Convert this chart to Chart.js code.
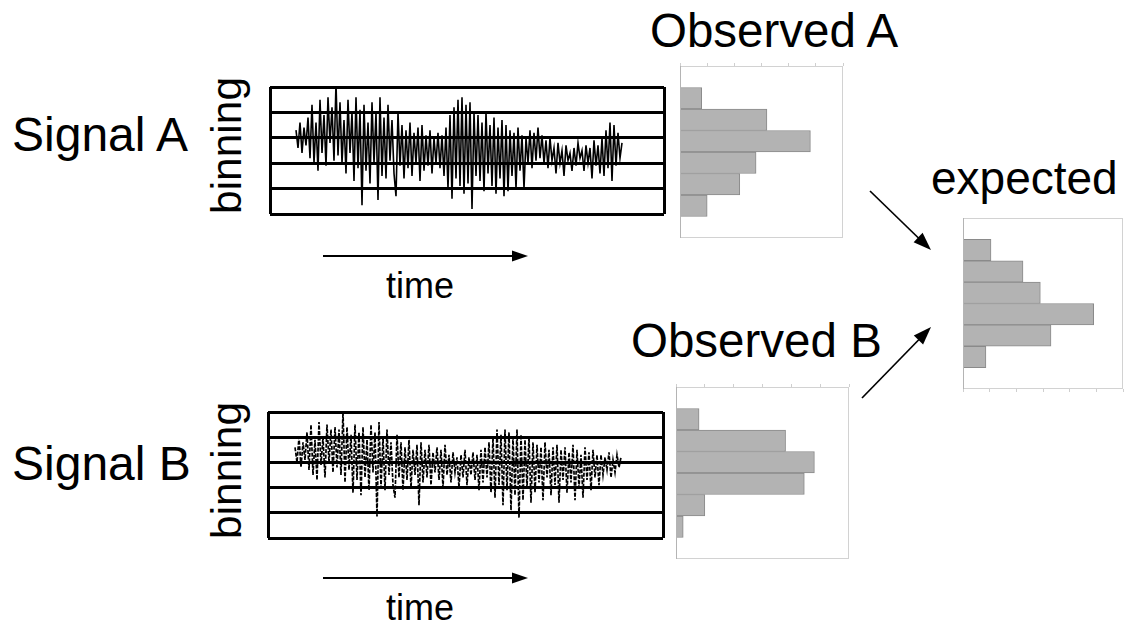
<!DOCTYPE html>
<html>
<head>
<meta charset="utf-8">
<script src="https://cdn.jsdelivr.net/npm/chart.js@4/dist/chart.umd.min.js"></script>
<style>
  html, body { margin: 0; padding: 0; background: #fff; }
  #stage { position: relative; width: 1135px; height: 625px; overflow: hidden;
           font-family: "Liberation Sans", Arial, sans-serif; color: #000; }
  .lbl { position: absolute; white-space: nowrap; line-height: 1; }
  .rot { transform-origin: 0 0; transform: rotate(-90deg); }
  canvas { position: absolute; }
  svg { position: absolute; left: 0; top: 0; }
</style>
</head>
<body>
<div id="stage">
  <div class="lbl" style="left:12px; top:111px; font-size:48px;">Signal A</div>
  <div class="lbl" style="left:12px; top:440px; font-size:48px;">Signal B</div>
  <div class="lbl rot" style="left:206px; top:214px; font-size:42.5px;">binning</div>
  <div class="lbl rot" style="left:206px; top:539px; font-size:42.5px;">binning</div>
  <div class="lbl" style="left:386px; top:268px; font-size:36px;">time</div>
  <div class="lbl" style="left:386px; top:590px; font-size:36px;">time</div>
  <div class="lbl" style="left:650px; top:7px; font-size:47.5px;">Observed A</div>
  <div class="lbl" style="left:631px; top:317px; font-size:47.5px;">Observed B</div>
  <div class="lbl" style="left:931px; top:155px; font-size:46px;">expected</div>

  <canvas id="sigA" width="400" height="133" style="left:267px; top:84px;"></canvas>
  <canvas id="sigB" width="401" height="132" style="left:265px; top:409px;"></canvas>
  <canvas id="histA" width="167" height="179" style="left:678px; top:61px;"></canvas>
  <canvas id="histB" width="177" height="179" style="left:674px; top:382px;"></canvas>
  <canvas id="histE" width="164" height="178" style="left:961px; top:216px;"></canvas>

  <svg width="1135" height="625">
    <g stroke="#000" stroke-width="2" fill="#000">
      <line x1="323" y1="256" x2="514" y2="256"/>
      <polygon points="528,256 512,250.5 512,261.5" stroke="none"/>
      <line x1="323" y1="578" x2="514" y2="578"/>
      <polygon points="528,578 512,572.5 512,583.5" stroke="none"/>
      <line x1="870" y1="191" x2="919" y2="238.5" stroke-width="1.7"/>
      <polygon points="931,250 913.6,242.2 922.6,232.8" stroke="none"/>
      <line x1="862" y1="398" x2="919" y2="339.5" stroke-width="1.7"/>
      <polygon points="931,327 923.1,344.4 913.8,335.4" stroke="none"/>
    </g>
  </svg>
</div>

<script>
// bin edges of the signal boxes (5 bands)
const signalBins = [0, 1, 2, 3, 4, 5];

// signal A, one sample every 2px
const signalA = [
  3.3, 2.6, 3.6, 2.4, 3.4, 2.7, 3.8, 2.2,
  4.3, 2.0, 3.6, 1.7, 4.5, 2.4, 3.9, 1.9, 4.6, 2.8, 4.2, 2.1,
  5.15, 2.3,
  4.4, 2.0, 3.7, 1.6, 4.5, 2.4, 4.0, 1.3, 4.6, 1.8, 4.1, 0.35, 4.3, 1.7,
  3.6, 1.2, 4.4, 2.0, 4.0, 0.55, 4.6, 1.5, 3.8, 1.4, 4.3, 2.1, 3.7, 1.6,
  0.7, 4.0, 1.9, 3.5, 1.4, 3.3, 1.8, 3.6, 1.5, 3.2, 2.0, 3.4, 1.3, 3.5,
  1.7, 3.1, 1.9, 3.3, 1.6, 3.0, 2.0, 3.2, 1.8, 3.1, 1.5, 3.4,
  1.0, 3.9, 0.6, 4.2, 1.4, 4.5, 1.1, 4.6, 0.8, 4.3, 1.2, 4.4, 0.2, 4.0, 1.5,
  3.9, 1.3, 3.6, 0.9, 4.0, 1.6, 3.5, 1.1, 3.8, 0.8, 3.4, 1.4, 3.7, 0.7,
  3.5, 0.9, 3.3, 1.5, 3.2, 1.0, 3.4, 1.7,
  3.1, 1.0, 3.0, 2.0, 3.3, 1.8, 3.2, 2.1, 3.4, 2.2, 3.1, 2.0, 2.9, 1.8, 3.0, 2.1,
  2.6, 1.6, 2.8, 2.0, 2.5, 1.5, 2.7, 2.1, 2.4, 1.7, 2.6, 1.9, 2.8, 2.2,
  2.5, 1.7, 2.7, 2.0, 2.6, 1.4, 2.9, 1.9, 2.7, 1.6,
  3.0, 1.5, 3.3, 1.8, 3.6, 1.3, 3.5, 1.9, 3.2, 2.2, 2.8
];

// signal B, one sample every 2px
const signalB = [
  3.6, 3.0, 4.0, 2.8, 3.8, 3.1, 4.2, 2.7,
  4.5, 2.5, 3.9, 2.3, 4.6, 2.9, 4.0, 2.4, 4.5, 3.0, 4.3, 2.6,
  4.4, 2.8,
  4.3, 2.5, 5.0, 2.2, 4.4, 2.7, 4.1, 1.8, 4.5, 2.3, 4.2, 1.7, 4.4, 2.4,
  3.9, 1.9, 4.5, 2.6, 4.2, 0.85, 4.6, 2.0, 4.0, 1.9, 4.3, 2.5, 3.8, 2.1,
  1.6, 4.1, 2.4, 3.8, 1.9, 3.6, 2.3, 3.9, 2.0, 3.5, 2.5, 3.7, 1.3, 3.8,
  2.2, 3.5, 2.4, 3.7, 2.1, 3.4, 2.6, 3.6, 2.3, 3.5, 2.0, 3.7,
  2.5, 3.3, 2.2, 3.4, 2.6, 3.2, 2.0, 3.3, 2.4, 3.5, 2.1, 3.2, 2.5, 3.4,
  2.3, 3.3, 1.9, 3.5, 2.2, 3.6, 2.4, 3.8,
  1.8, 4.0, 1.6, 4.3, 2.1, 4.1, 1.3, 4.3, 1.9, 4.2, 1.1, 4.0, 1.7, 4.3,
  0.8, 4.1, 1.5, 3.9, 2.0, 4.0, 1.4, 3.8, 1.8,
  3.7, 2.2, 3.6, 1.5, 3.8, 2.4, 3.5, 1.7, 3.6, 2.1, 3.7, 1.4, 3.5, 2.3,
  3.6, 1.8, 3.4, 2.2, 3.7, 1.5, 3.5, 2.0, 3.3, 1.6, 3.6, 2.3, 3.4, 1.9,
  3.5, 2.4, 3.3, 2.1,
  3.3, 2.5, 3.2, 2.7, 3.4, 2.4, 3.1, 2.6, 3.3, 2.8, 3.2
];

// histogram slots (first and last stay empty)
const histSlots = ['', '1', '2', '3', '4', '5', '6', ''];
const histTicks = [0, 1, 2, 3, 4, 5, 6];
const observedA = [null, 0.8, 3.2, 4.8, 2.8, 2.2, 1.0, null];
const observedB = [null, 0.8, 3.8, 4.8, 4.45, 1.0, 0.25, null];
const expected  = [null, 1.05, 2.25, 2.9, 4.9, 3.3, 0.86, null];

// light frame round the histogram plots
const framePlugin = {
  id: 'frame',
  afterDraw(chart) {
    const { ctx, chartArea: a } = chart;
    ctx.save();
    ctx.strokeStyle = '#d2d2d2';
    ctx.lineWidth = 1;
    ctx.strokeRect(a.left + 0.5, a.top + 0.5, a.right - a.left - 1, a.bottom - a.top - 1);
    ctx.strokeStyle = '#b4b4b4';
    ctx.beginPath();
    ctx.moveTo(a.left + 0.5, a.top);
    ctx.lineTo(a.left + 0.5, a.bottom);
    ctx.stroke();
    ctx.restore();
  }
};

function drawSignal(id, values, xMin, xMax, width, dash) {
  const pts = values.map((v, i) => ({ x: i, y: v }));
  return new Chart(document.getElementById(id), {
    type: 'line',
    data: {
      datasets: [{
        data: pts,
        borderColor: '#000',
        borderWidth: width,
        borderDash: dash,
        pointRadius: 0,
        tension: 0
      }]
    },
    options: {
      responsive: false,
      animation: false,
      events: [],
      layout: { padding: 3 },
      plugins: { legend: { display: false }, tooltip: { enabled: false } },
      scales: {
        x: {
          type: 'linear', min: xMin, max: xMax,
          afterBuildTicks: s => { s.ticks = [{ value: xMin }, { value: xMax }]; },
          ticks: { display: false },
          grid: { color: '#000', lineWidth: 3, drawTicks: false },
          border: { display: false }
        },
        y: {
          min: signalBins[0], max: signalBins[signalBins.length - 1],
          afterBuildTicks: s => { s.ticks = signalBins.map(v => ({ value: v })); },
          ticks: { display: false },
          grid: { color: '#000', lineWidth: 3, drawTicks: false },
          border: { display: false }
        }
      }
    }
  });
}

function drawHist(id, values, axisPos) {
  return new Chart(document.getElementById(id), {
    type: 'bar',
    data: {
      labels: histSlots,
      datasets: [{
        data: values,
        backgroundColor: '#b3b3b3',
        borderColor: '#8a8a8a',
        borderWidth: 1,
        categoryPercentage: 1,
        barPercentage: 1
      }]
    },
    options: {
      indexAxis: 'y',
      responsive: false,
      animation: false,
      events: [],
      layout: { padding: 2 },
      plugins: { legend: { display: false }, tooltip: { enabled: false } },
      scales: {
        x: {
          position: axisPos,
          min: histTicks[0], max: histTicks[histTicks.length - 1],
          afterBuildTicks: s => { s.ticks = histTicks.map(v => ({ value: v })); },
          ticks: { display: false },
          grid: { drawOnChartArea: false, drawTicks: true, tickLength: 3, color: '#cfcfcf' },
          border: { display: false }
        },
        y: {
          ticks: { display: false },
          grid: { display: false, drawTicks: false },
          border: { display: false }
        }
      }
    },
    plugins: [framePlugin]
  });
}

drawSignal('sigA', signalA, -13, 184, 1.6, []);
drawSignal('sigB', signalB, -13.5, 184, 1.7, [4, 1.5]);
drawHist('histA', observedA, 'top');
drawHist('histB', observedB, 'top');
drawHist('histE', expected, 'bottom');
</script>
</body>
</html>
